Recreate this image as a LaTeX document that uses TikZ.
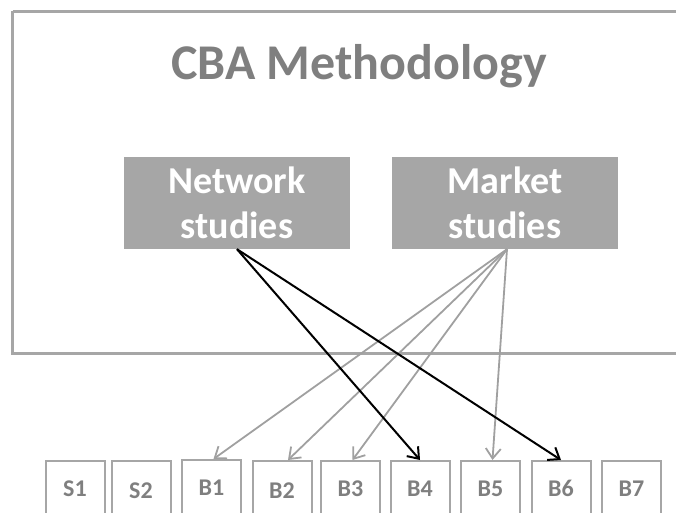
\documentclass[tikz,border=0pt]{standalone}
\usepackage{fontspec}
\setmainfont{Carlito}
\usetikzlibrary{arrows.meta}
\definecolor{boxgray}{HTML}{A6A6A6}
\definecolor{txtgray}{HTML}{7F7F7F}
\definecolor{arrgray}{HTML}{A0A0A0}
\tikzset{
  study/.style={fill=boxgray, draw=none, text=white, font=\fontsize{38}{45}\selectfont\bfseries,
    minimum width=226pt, minimum height=92pt, align=center, inner sep=0pt},
  cell/.style={draw=boxgray, line width=2pt, text=txtgray, font=\fontsize{24}{28}\selectfont\bfseries,
    minimum width=59pt, minimum height=58pt, anchor=north, inner sep=0pt, text height=12pt, text depth=0pt},
  lowtext/.style={text height=16pt, text depth=0pt},
  blackarr/.style={draw=black, line width=2pt, -{Straight Barb[length=10pt,width=15pt,line width=2pt]}},
  grayarr/.style={draw=arrgray, line width=1.8pt, -{Straight Barb[length=10pt,width=15pt,line width=1.8pt]}}
}
\begin{document}
\begin{tikzpicture}[x=1pt,y=-1pt]
\useasboundingbox (0,0) rectangle (676,513);
\clip (0,0) rectangle (676,513);
\draw[boxgray, line width=3pt] (12.5,11.5) -- (700,11.5) (12.5,11.5) -- (12.5,353) -- (700,353);
\node[text=txtgray, font=\fontsize{50}{60}\selectfont\bfseries, anchor=base] (title) at (359,80) {CBA Methodology};
\node[study] (net) at (237,203) {Network\\studies};
\node[study] (mkt) at (505,203) {Market\\studies};
\node[cell] (s1) at (75,460) {S1};
\node[cell, lowtext] (s2) at (141,460) {S2};
\node[cell] (b1) at (211.5,459) {B1};
\node[cell, lowtext] (b2) at (282,460) {B2};
\node[cell] (b3) at (350.5,460) {B3};
\node[cell] (b4) at (420,460) {B4};
\node[cell] (b5) at (490.5,460) {B5};
\node[cell] (b6) at (561,460) {B6};
\node[cell] (b7) at (631.5,460) {B7};
\draw[grayarr] ([xshift=2pt]mkt.south) -- ([xshift=2pt]b1.north);
\draw[grayarr] ([xshift=2pt]mkt.south) -- ([xshift=6pt]b2.north);
\draw[grayarr] ([xshift=2pt]mkt.south) -- ([xshift=2pt]b3.north);
\draw[grayarr] ([xshift=2pt]mkt.south) -- ([xshift=2pt]b5.north);
\draw[blackarr] (net.south) -- (b4.north);
\draw[blackarr] (net.south) -- (b6.north);
\end{tikzpicture}
\end{document}
